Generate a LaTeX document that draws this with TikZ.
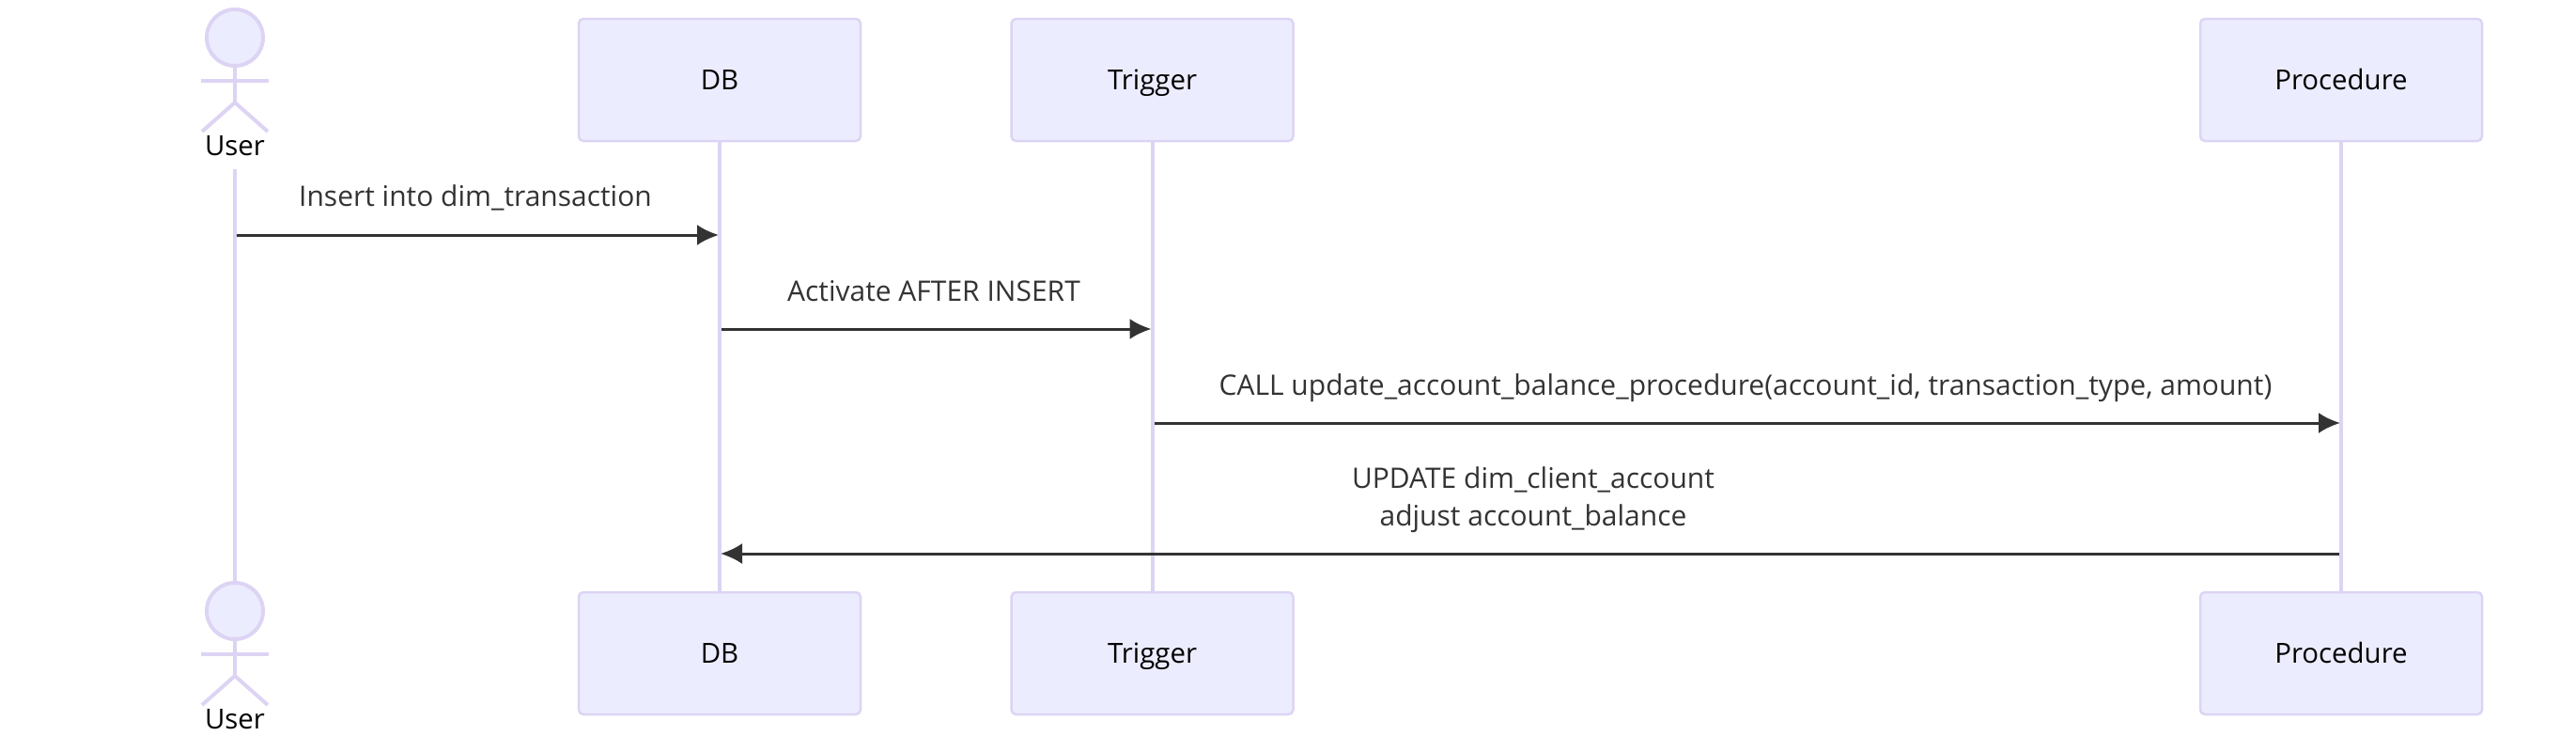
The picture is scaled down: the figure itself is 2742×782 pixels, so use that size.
\documentclass[tikz,border=0pt]{standalone}
\usepackage{fontspec}
\setmainfont{Open Sans}
\usepackage{xcolor}
\usetikzlibrary{arrows.meta,positioning,calc}
\definecolor{boxfill}{HTML}{ECECFF}
\definecolor{boxline}{HTML}{DDD4F4}
\definecolor{msgline}{HTML}{333333}

\begin{document}
\begin{tikzpicture}[
  x=0.5pt,y=-0.5pt,
  node distance=79pt and 79pt,
  actorbox/.style={draw=boxline,fill=boxfill,line width=1.25pt,rounded corners=2.5pt,minimum width=150pt,minimum height=65pt,inner sep=0pt,text height=10.5pt,text depth=0pt,font=\fontsize{14.7}{16}\selectfont},
  actorhead/.style={circle,draw=boxline,fill=boxfill,line width=2pt,minimum size=30pt,inner sep=0pt},
  actorname/.style={inner sep=0pt,font=\fontsize{14.7}{16}\selectfont},
  stick/.style={draw=boxline,line width=2pt},
  lifeline/.style={draw=boxline,line width=2pt},
  arrow/.style={-{Latex[length=11.5pt,width=11pt]},draw=msgline,line width=1.5pt},
  msg/.style={inner sep=0pt,text=msgline,align=center,font=\fontsize{15}{20}\selectfont}
]
\useasboundingbox (0,0) rectangle (2742,782);
% top row
\node[actorbox] (db) at (766,85) {DB};
\node[actorbox,right=of db] (trig) {Trigger};
\node[actorbox] (proc) at (2492,85) {Procedure};
\node[actorhead] (uhead) at (250,40) {};
\node[actorname] (uname) at (250,155) {User};
\coordinate (uarms) at (250,86);
\coordinate (uhip) at (250,109);
% bottom row
\node[actorbox] (dbb) at (766,695) {DB};
\node[actorbox] (trigb) at (trig |- dbb) {Trigger};
\node[actorbox] (procb) at (proc |- dbb) {Procedure};
\node[actorhead] (uheadb) at (250,650) {};
\node[actorname] (unameb) at (250,765) {User};
\coordinate (uarmsb) at (250,696);
\coordinate (uhipb) at (250,719);
% stick figures
\draw[stick] (uhead) -- (uhip) -- ++(-35,31) (uhip) -- ++(35,31);
\draw[stick] (uarms) ++(-36,0) -- ++(72,0);
\draw[stick] (uheadb) -- (uhipb) -- ++(-35,31) (uhipb) -- ++(35,31);
\draw[stick] (uarmsb) ++(-36,0) -- ++(72,0);
% lifelines
\coordinate (ustart) at (250,180);
\draw[lifeline] (ustart) -- (uheadb);
\draw[lifeline] (db) -- (dbb);
\draw[lifeline] (trig) -- (trigb);
\draw[lifeline] (proc) -- (procb);
% messages
\coordinate (m1) at (0,250); \coordinate (m2) at (0,350);
\coordinate (m3) at (0,450); \coordinate (m4) at (0,589);
\draw[arrow] ($(uname |- m1)+(2,0)$) -- ($(db |- m1)+(-1,0)$);
\draw[arrow] ($(db |- m2)+(2,0)$) -- ($(trig |- m2)+(-1,0)$);
\draw[arrow] ($(trig |- m3)+(2,0)$) -- ($(proc |- m3)+(-1,0)$);
\draw[arrow] ($(proc |- m4)+(-2,0)$) -- ($(db |- m4)+(1,0)$);
\node[msg] (l1) at (506,210) {Insert into dim\_transaction};
\node[msg] (l2) at (994,310) {Activate AFTER INSERT};
\node[msg] (l3) at (1858,413) {CALL update\_account\_balance\_procedure(account\_id, transaction\_type, amount)};
\node[msg] (l4) at (1632,532) {UPDATE dim\_client\_account\\adjust account\_balance};
\end{tikzpicture}
\end{document}
